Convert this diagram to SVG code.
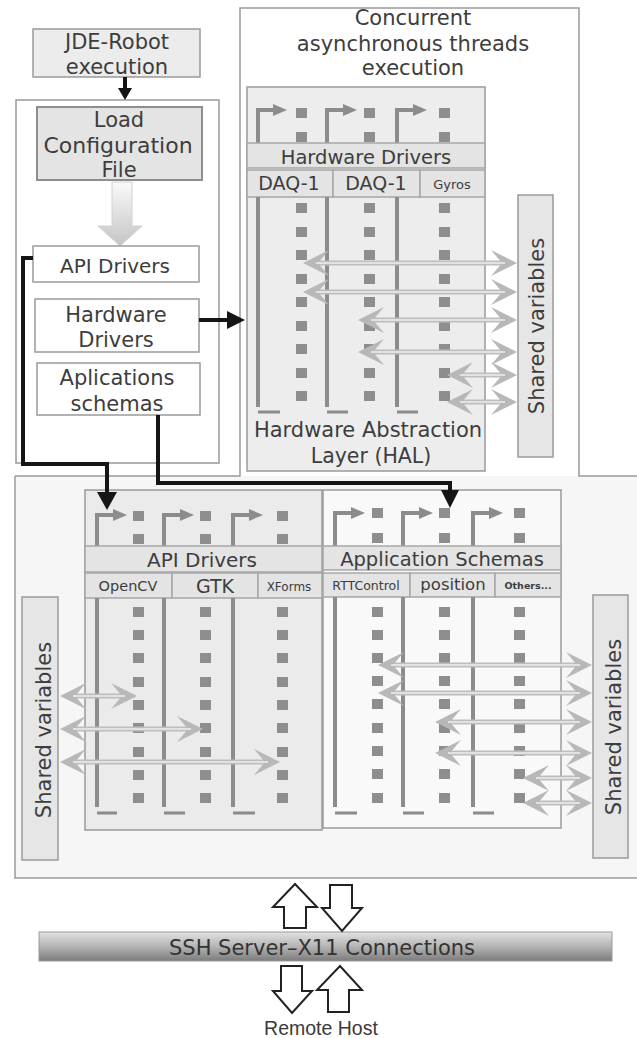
<svg xmlns="http://www.w3.org/2000/svg" width="637" height="1038" viewBox="0 0 637 1038">
<style>
.t{font-family:"DejaVu Sans","Liberation Sans",sans-serif;fill:#3d3d3d;text-anchor:middle;font-size:21px}
.box{stroke:#9a9a9a;stroke-width:1.5}
.sv{fill:#e6e6e6;stroke:#9a9a9a;stroke-width:1.5}
.band{fill:#e4e4e4;stroke:#a6a6a6;stroke-width:1.5}
.thr{fill:none;stroke:#8c8c8c;stroke-width:4}
.foot{fill:none;stroke:#8c8c8c;stroke-width:3}
.sq{fill:#8e8e8e}
.dl{fill:none;stroke:#bdbdbd;stroke-width:5}
.dlc{fill:none;stroke:#eeeeee;stroke-width:1.4}
.conn{fill:none;stroke:#151515;stroke-width:4}
.hd{fill:#151515}
.hollow{fill:#ffffff;stroke:#222;stroke-width:2;stroke-linejoin:miter}
</style>
<defs>
<marker id="ta" markerUnits="userSpaceOnUse" markerWidth="15" markerHeight="13" refX="1" refY="6" orient="auto"><path d="M0,0 L14,6 L0,12 Z" fill="#8c8c8c"/></marker>
<marker id="dh" markerUnits="userSpaceOnUse" markerWidth="27" markerHeight="28" refX="20" refY="14" orient="auto-start-reverse"><path d="M26,14 L0,1 L11,14 L0,27 Z" fill="#b8b8b8"/></marker>
<linearGradient id="gArrow" x1="0" y1="0" x2="0" y2="1"><stop offset="0" stop-color="#fafafa"/><stop offset="1" stop-color="#c4c4c4"/></linearGradient>
<linearGradient id="gBar" x1="0" y1="0" x2="0" y2="1"><stop offset="0" stop-color="#e2e2e2"/><stop offset="0.5" stop-color="#b4b4b4"/><stop offset="1" stop-color="#7c7c7c"/></linearGradient>
</defs>
<rect x="0" y="0" width="637" height="1038" fill="#ffffff"/>

<g id="containers">
<rect x="15" y="476" width="630" height="402" fill="#f6f6f6"/>
<rect x="240" y="8" width="339" height="468" fill="#ffffff"/>
<path d="M15,476 H240 V8 H579 V476 H645 M15,476 V878 H645" fill="none" stroke="#9a9a9a" stroke-width="1.5"/>
<text class="t" x="413" y="25">Concurrent</text>
<text class="t" x="413" y="51">asynchronous threads</text>
<text class="t" x="413" y="75">execution</text>
</g>

<g id="jde">
<rect class="box" x="33" y="29" width="167" height="48" fill="#ececec"/>
<text class="t" x="117" y="49">JDE-Robot</text>
<text class="t" x="117" y="74">execution</text>
</g>

<g id="configBox">
<rect class="box" x="16" y="100" width="203" height="363" fill="#ffffff"/>
</g>

<g id="loadConfig">
<rect x="37" y="107" width="165" height="73" fill="#e4e4e4" stroke="#8e8e8e" stroke-width="2"/>
<text class="t" x="119" y="127">Load</text>
<text class="t" x="118" y="153" style="font-size:22px">Configuration</text>
<text class="t" x="119" y="177">File</text>
</g>

<g id="loadArrow">
<path d="M112,182 H132 V226 H142 L120,246 L98,226 H112 Z" fill="url(#gArrow)" stroke="#d2d2d2" stroke-width="1"/>
</g>

<g id="apiDriversItem">
<rect class="box" x="33" y="246" width="166" height="36" fill="#ffffff"/>
<text class="t" x="115" y="273" style="font-size:20px">API Drivers</text>
</g>
<g id="hwDriversItem">
<rect class="box" x="35" y="299" width="164" height="53" fill="#ffffff"/>
<text class="t" x="116" y="322">Hardware</text>
<text class="t" x="116" y="347">Drivers</text>
</g>
<g id="appSchemasItem">
<rect class="box" x="37" y="363" width="163" height="52" fill="#ffffff"/>
<text class="t" x="117" y="385">Aplications</text>
<text class="t" x="117" y="411">schemas</text>
</g>

<g id="hal">
<rect class="box" x="247" y="87" width="238" height="384" fill="#ededed"/>
<path class="thr" d="M258,143 V110 H274" marker-end="url(#ta)"/>
<path class="thr" d="M327,143 V110 H344" marker-end="url(#ta)"/>
<path class="thr" d="M397,143 V110 H414" marker-end="url(#ta)"/>
<rect class="sq" x="296" y="108" width="11" height="10"/><rect class="sq" x="296" y="132" width="11" height="10"/>
<rect class="sq" x="364" y="108" width="11" height="10"/><rect class="sq" x="364" y="132" width="11" height="10"/>
<rect class="sq" x="439" y="108" width="11" height="10"/><rect class="sq" x="439" y="132" width="11" height="10"/>
<rect class="band" x="247" y="143" width="238" height="25"/>
<text class="t" x="366" y="164" style="font-size:19.5px">Hardware Drivers</text>
<rect class="band" x="247" y="170" width="86" height="27"/>
<rect class="band" x="333" y="170" width="87" height="27"/>
<rect class="band" x="420" y="170" width="65" height="27"/>
<text class="t" x="289" y="190" style="font-size:19px">DAQ-1</text>
<text class="t" x="376" y="190" style="font-size:19px">DAQ-1</text>
<text class="t" x="452" y="189" style="font-size:13px">Gyros</text>
<path class="thr" d="M258,197 V407 M327,197 V407 M397,197 V407"/>
<path class="foot" d="M258,412 H280 M327,412 H348 M397,412 H418"/>
<g class="sq">
<rect x="296" y="203" width="11" height="10"/><rect x="296" y="227" width="11" height="10"/><rect x="296" y="250" width="11" height="10"/><rect x="296" y="274" width="11" height="10"/><rect x="296" y="297" width="11" height="10"/><rect x="296" y="321" width="11" height="10"/><rect x="296" y="344" width="11" height="10"/><rect x="296" y="368" width="11" height="10"/><rect x="296" y="391" width="11" height="10"/>
<rect x="364" y="203" width="11" height="10"/><rect x="364" y="227" width="11" height="10"/><rect x="364" y="250" width="11" height="10"/><rect x="364" y="274" width="11" height="10"/><rect x="364" y="297" width="11" height="10"/><rect x="364" y="321" width="11" height="10"/><rect x="364" y="344" width="11" height="10"/><rect x="364" y="368" width="11" height="10"/><rect x="364" y="391" width="11" height="10"/>
<rect x="439" y="203" width="11" height="10"/><rect x="439" y="227" width="11" height="10"/><rect x="439" y="250" width="11" height="10"/><rect x="439" y="274" width="11" height="10"/><rect x="439" y="297" width="11" height="10"/><rect x="439" y="321" width="11" height="10"/><rect x="439" y="344" width="11" height="10"/><rect x="439" y="368" width="11" height="10"/><rect x="439" y="391" width="11" height="10"/>
</g>
<text class="t" x="368" y="437">Hardware Abstraction</text>
<text class="t" x="371" y="463" style="font-size:20.5px">Layer (HAL)</text>
</g>

<g id="sharedHal">
<rect class="sv" x="518" y="195" width="35" height="262"/>
<text class="t" x="544" y="326" transform="rotate(-90 544 326)">Shared variables</text>
</g>

<g id="apiDrivers">
<rect class="box" x="85" y="490" width="237" height="340" fill="#ebebeb"/>
<path class="thr" d="M97,546 V515 H114" marker-end="url(#ta)"/>
<path class="thr" d="M164,546 V515 H181" marker-end="url(#ta)"/>
<path class="thr" d="M233,546 V515 H250" marker-end="url(#ta)"/>
<rect class="sq" x="133" y="511" width="11" height="10"/><rect class="sq" x="133" y="534" width="11" height="10"/>
<rect class="sq" x="200" y="511" width="11" height="10"/><rect class="sq" x="200" y="534" width="11" height="10"/>
<rect class="sq" x="277" y="511" width="11" height="10"/><rect class="sq" x="277" y="534" width="11" height="10"/>
<rect class="band" x="85" y="546" width="237" height="26"/>
<text class="t" x="202" y="567" style="font-size:20px">API Drivers</text>
<rect class="band" x="85" y="573" width="87" height="25"/>
<rect class="band" x="172" y="573" width="86" height="25"/>
<rect class="band" x="258" y="573" width="64" height="25"/>
<text class="t" x="128" y="591" style="font-size:14.5px">OpenCV</text>
<text class="t" x="215" y="593" style="font-size:19px">GTK</text>
<text class="t" x="289" y="591" style="font-size:12px">XForms</text>
<path class="thr" d="M97,598 V807 M164,598 V807 M233,598 V807"/>
<path class="foot" d="M97,813 H117 M164,813 H185 M233,813 H255"/>
<g class="sq">
<rect x="133" y="607" width="11" height="10"/><rect x="133" y="630" width="11" height="10"/><rect x="133" y="653" width="11" height="10"/><rect x="133" y="677" width="11" height="10"/><rect x="133" y="700" width="11" height="10"/><rect x="133" y="723" width="11" height="10"/><rect x="133" y="747" width="11" height="10"/><rect x="133" y="770" width="11" height="10"/><rect x="133" y="793" width="11" height="10"/>
<rect x="200" y="607" width="11" height="10"/><rect x="200" y="630" width="11" height="10"/><rect x="200" y="653" width="11" height="10"/><rect x="200" y="677" width="11" height="10"/><rect x="200" y="700" width="11" height="10"/><rect x="200" y="723" width="11" height="10"/><rect x="200" y="747" width="11" height="10"/><rect x="200" y="770" width="11" height="10"/><rect x="200" y="793" width="11" height="10"/>
<rect x="277" y="607" width="11" height="10"/><rect x="277" y="630" width="11" height="10"/><rect x="277" y="653" width="11" height="10"/><rect x="277" y="677" width="11" height="10"/><rect x="277" y="700" width="11" height="10"/><rect x="277" y="723" width="11" height="10"/><rect x="277" y="747" width="11" height="10"/><rect x="277" y="770" width="11" height="10"/><rect x="277" y="793" width="11" height="10"/>
</g>
</g>

<g id="appSchemas">
<rect class="box" x="323" y="490" width="238" height="338" fill="#f9f9f9"/>
<path class="thr" d="M335,546 V513 H352" marker-end="url(#ta)"/>
<path class="thr" d="M403,546 V513 H420" marker-end="url(#ta)"/>
<path class="thr" d="M473,546 V513 H490" marker-end="url(#ta)"/>
<rect class="sq" x="372" y="508" width="11" height="10"/><rect class="sq" x="372" y="533" width="11" height="10"/>
<rect class="sq" x="439" y="508" width="11" height="10"/><rect class="sq" x="439" y="533" width="11" height="10"/>
<rect class="sq" x="514" y="508" width="11" height="10"/><rect class="sq" x="514" y="533" width="11" height="10"/>
<rect class="band" x="323" y="546" width="238" height="24"/>
<text class="t" x="442" y="566" style="font-size:19.5px">Application Schemas</text>
<rect class="band" x="323" y="573" width="87" height="24"/>
<rect class="band" x="410" y="573" width="85" height="24"/>
<rect class="band" x="495" y="573" width="66" height="24"/>
<text class="t" x="366" y="590" style="font-size:12.5px">RTTControl</text>
<text class="t" x="453" y="590" style="font-size:16.5px">position</text>
<text class="t" x="528" y="589" style="font-size:9.5px;font-weight:bold">Others...</text>
<path class="thr" d="M335,597 V807 M403,597 V807 M473,597 V807"/>
<path class="foot" d="M335,813 H357 M403,813 H424 M473,813 H494"/>
<g class="sq">
<rect x="372" y="607" width="11" height="10"/><rect x="372" y="630" width="11" height="10"/><rect x="372" y="653" width="11" height="10"/><rect x="372" y="676" width="11" height="10"/><rect x="372" y="699" width="11" height="10"/><rect x="372" y="723" width="11" height="10"/><rect x="372" y="746" width="11" height="10"/><rect x="372" y="769" width="11" height="10"/><rect x="372" y="793" width="11" height="10"/>
<rect x="439" y="607" width="11" height="10"/><rect x="439" y="630" width="11" height="10"/><rect x="439" y="653" width="11" height="10"/><rect x="439" y="676" width="11" height="10"/><rect x="439" y="699" width="11" height="10"/><rect x="439" y="723" width="11" height="10"/><rect x="439" y="746" width="11" height="10"/><rect x="439" y="769" width="11" height="10"/><rect x="439" y="793" width="11" height="10"/>
<rect x="514" y="607" width="11" height="10"/><rect x="514" y="630" width="11" height="10"/><rect x="514" y="653" width="11" height="10"/><rect x="514" y="676" width="11" height="10"/><rect x="514" y="699" width="11" height="10"/><rect x="514" y="723" width="11" height="10"/><rect x="514" y="746" width="11" height="10"/><rect x="514" y="769" width="11" height="10"/><rect x="514" y="793" width="11" height="10"/>
</g>
</g>

<g id="sharedLeft">
<rect class="sv" x="22" y="597" width="36" height="263"/>
<text class="t" x="51" y="730" transform="rotate(-90 51 730)">Shared variables</text>
</g>
<g id="sharedRight">
<rect class="sv" x="593" y="595" width="35" height="263"/>
<text class="t" x="621" y="727" transform="rotate(-90 621 727)">Shared variables</text>
</g>

<g id="sshBar">
<rect x="39" y="932" width="573" height="29" fill="url(#gBar)" stroke="#9a9a9a" stroke-width="1"/>
<text class="t" x="322" y="955" style="fill:#333">SSH Server–X11 Connections</text>
</g>

<g id="remoteHost">
<text x="321" y="1035" font-family="'Liberation Sans',Arial,sans-serif" font-size="19.5" fill="#3a3a3a" text-anchor="middle">Remote Host</text>
</g>

<g id="connectors">
<path class="conn" d="M125,77 V89" stroke-width="3"/>
<polygon class="hd" points="118,88 132,88 125,100"/>
<path class="conn" d="M199,320 H229"/>
<polygon class="hd" points="227,311 245,320 227,329"/>
<path class="conn" d="M33,258 H23 V464 H107 V493"/>
<polygon class="hd" points="97,492 117,492 107,510"/>
<path class="conn" d="M158,415 V483 H450 V491"/>
<polygon class="hd" points="441,490 459,490 450,508"/>

<g>
<path class="dl" d="M309,263 H511" marker-start="url(#dh)" marker-end="url(#dh)"/>
<path class="dl" d="M309,292 H511" marker-start="url(#dh)" marker-end="url(#dh)"/>
<path class="dl" d="M364,320 H511" marker-start="url(#dh)" marker-end="url(#dh)"/>
<path class="dl" d="M364,352 H511" marker-start="url(#dh)" marker-end="url(#dh)"/>
<path class="dl" d="M453,375 H511" marker-start="url(#dh)" marker-end="url(#dh)"/>
<path class="dl" d="M453,402 H511" marker-start="url(#dh)" marker-end="url(#dh)"/>
<path class="dlc" d="M316,263 H505 M316,292 H505 M371,320 H505 M371,352 H505 M460,375 H505 M460,402 H505"/>
</g>
<g>
<path class="dl" d="M66,696 H131" marker-start="url(#dh)" marker-end="url(#dh)"/>
<path class="dl" d="M66,729 H197" marker-start="url(#dh)" marker-end="url(#dh)"/>
<path class="dl" d="M66,762 H274" marker-start="url(#dh)" marker-end="url(#dh)"/>
<path class="dlc" d="M73,696 H125 M73,729 H191 M73,762 H268"/>
</g>
<g>
<path class="dl" d="M384,665 H586" marker-start="url(#dh)" marker-end="url(#dh)"/>
<path class="dl" d="M384,693 H586" marker-start="url(#dh)" marker-end="url(#dh)"/>
<path class="dl" d="M441,722 H586" marker-start="url(#dh)" marker-end="url(#dh)"/>
<path class="dl" d="M441,753 H586" marker-start="url(#dh)" marker-end="url(#dh)"/>
<path class="dl" d="M529,778 H586" marker-start="url(#dh)" marker-end="url(#dh)"/>
<path class="dl" d="M529,803 H586" marker-start="url(#dh)" marker-end="url(#dh)"/>
<path class="dlc" d="M391,665 H580 M391,693 H580 M448,722 H580 M448,753 H580 M536,778 H580 M536,803 H580"/>
</g>

<path class="hollow" d="M284,928 V907 H273 L295,884 L317,907 H306 V928 Z"/>
<path class="hollow" d="M330,885 H352 V908 H362 L342,931 L322,908 H330 Z"/>
<path class="hollow" d="M281,966 H302 V991 H312 L292,1013 L273,991 H281 Z"/>
<path class="hollow" d="M328,1012 V990 H317 L340,966 L362,990 H349 V1012 Z"/>
</g>
</svg>
